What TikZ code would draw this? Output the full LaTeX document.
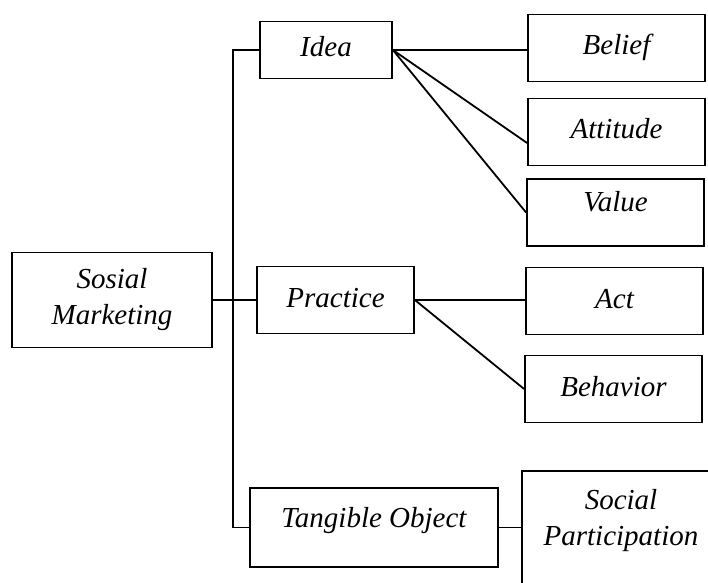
\documentclass[tikz,border=0pt]{standalone}
\usepackage{fontspec}
\setmainfont{Liberation Serif}
\begin{document}
\begin{tikzpicture}[x=0.5pt,y=-0.5pt,
    box/.style={draw, line width=0.9pt, font=\itshape\fontsize{14.5}{18}\selectfont, align=center, inner sep=0pt},
    word/.style={box, text height=10pt, text depth=3pt},
    raised/.style={text depth=10.5pt},
    leaf/.style={word, minimum width=88.5pt, minimum height=33.5pt},
    link/.style={line width=0.9pt}]
    \clip (0,0) rectangle (708,583);
    \node[box, minimum width=100pt, minimum height=47.5pt] (sm) at (112,300) {Sosial\\Marketing};
    \node[word, minimum width=66pt, minimum height=28.5pt] (idea) at (326,50) {Idea};
    \node[word, minimum width=78.5pt, minimum height=33.5pt] (practice) at (335.5,300) {Practice};
    \node[word, raised, minimum width=124pt, minimum height=39.5pt] (tangible) at (374,527.5) {Tangible Object};
    \node[box, minimum width=99pt, minimum height=64.5pt, text depth=18pt] (social) at (621,535.5) {Social\\Participation};
    \node[leaf] (belief) at (616.5,48) {Belief};
    \node[leaf] (attitude) at (616.5,132) {Attitude};
    \node[leaf, raised] (value) at (615.5,212.5) {Value};
    \node[leaf] (act) at (614.5,301) {Act};
    \node[leaf] (behavior) at (613.5,389) {Behavior};
    \coordinate (trunk) at (233,300);
    \draw[link] (idea.west) -| (trunk) |- (tangible.west);
    \draw[link] (sm.east) -- (practice.west);
    \draw[link] (idea.east) -- (idea.east -| belief.west);
    \draw[link] (idea.east) -- ([yshift=-5.5pt]attitude.west);
    \draw[link] (idea.east) -- (value.west);
    \draw[link] (practice.east) -- (practice.east -| act.west);
    \draw[link] (practice.east) -- (behavior.west);
    \draw[link] (tangible.east) -- (tangible.east -| social.west);
\end{tikzpicture}
\end{document}
